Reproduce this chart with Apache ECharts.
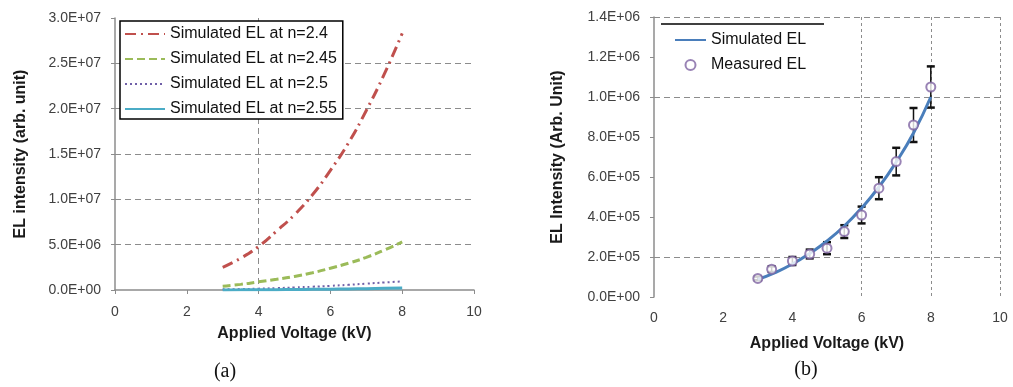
<!DOCTYPE html>
<html style="width: 100%; height: 100%">
<head>
    <meta charset="utf-8">
    <script src="https://cdn.jsdelivr.net/npm/echarts@6/dist/echarts.min.js"></script>
</head>
<body style="width: 100%; height: 100%; margin: 0; background: #fff">
<div id="container" style="width: 1013px; height: 387px"></div>

<script type="text/javascript">
    // (a) simulated EL vs voltage for several n
    var voltA = [3, 3.5, 4, 4.5, 5, 5.5, 6, 6.5, 7, 7.5, 8];
    var elN240 = [2.5e6, 3.5e6, 4.8e6, 6.5e6, 8.3e6, 1.05e7, 1.32e7, 1.62e7, 1.98e7, 2.38e7, 2.83e7];
    var elN245 = [4.2e5, 6.2e5, 9.0e5, 1.18e6, 1.5e6, 1.9e6, 2.4e6, 2.95e6, 3.6e6, 4.4e6, 5.3e6];
    var elN250 = [7e4, 1.0e5, 1.5e5, 2.1e5, 2.8e5, 3.6e5, 4.6e5, 5.7e5, 7.0e5, 8.3e5, 9.5e5];
    var elN255 = [1.2e4, 1.8e4, 2.7e4, 3.8e4, 5.2e4, 7e4, 9.2e4, 1.2e5, 1.5e5, 1.9e5, 2.3e5];
    var namesA = ['Simulated EL at n=2.4', 'Simulated EL at n=2.45', 'Simulated EL at n=2.5', 'Simulated EL at n=2.55'];

    // (b) simulated vs measured
    var simVolt = [3, 3.5, 4, 4.5, 5, 5.5, 6, 6.5, 7, 7.5, 8];
    var simEL = [8.8e4, 1.22e5, 1.65e5, 2.18e5, 2.8e5, 3.55e5, 4.45e5, 5.5e5, 6.75e5, 8.2e5, 1.0e6];
    var measVolt = [3, 3.4, 4, 4.5, 5, 5.5, 6, 6.5, 7, 7.5, 8];
    var measEL = [9.3e4, 1.39e5, 1.8e5, 2.15e5, 2.44e5, 3.27e5, 4.1e5, 5.44e5, 6.77e5, 8.6e5, 1.05e6];
    var measErr = [9e3, 1.4e4, 2.0e4, 2.2e4, 3.0e4, 3.2e4, 4.2e4, 5.5e4, 6.9e4, 8.5e4, 1.03e5];

    var font = 'Liberation Sans, Arial, sans-serif';
    var gridGray = '#8c8c8c';
    var NONE = 'rgba(0,0,0,0)';

    function sci(v) {
        if (v === 0) return '0.0E+00';
        var e = Math.floor(Math.log10(Math.abs(v)) + 1e-9);
        var s = (v / Math.pow(10, e)).toFixed(1);
        if (s === '10.0') { s = '1.0'; e++; }
        return s + 'E' + (e < 0 ? '-' : '+') + (Math.abs(e) < 10 ? '0' : '') + Math.abs(e);
    }
    function pairs(xs, ys) {
        return xs.map(function (x, i) { return [x, ys[i]]; });
    }

    var dom = document.getElementById("container");
    var myChart = echarts.init(dom, null, {renderer: 'canvas'});

    var axisLbl = {color: '#404040', fontFamily: font, fontSize: 14};
    var axisNameStyle = {color: '#1a1a1a', fontFamily: font, fontSize: 16, fontWeight: 'bold'};
    var legendText = {fontFamily: font, fontSize: 16, color: '#111'};
    var hidden = {opacity: 0};

    option = {
        animation: false,
        backgroundColor: '#fff',
        grid: [
            {left: 115, right: 539, top: 18, bottom: 97},
            {left: 654, right: 13, top: 17, bottom: 90}
        ],
        legend: [
            {
                data: namesA,
                orient: 'vertical',
                left: 120, top: 21,
                itemWidth: 40, itemHeight: 14, itemGap: 9,
                padding: [5, 6, 2, 4],
                itemStyle: hidden,
                borderColor: '#000', borderWidth: 1.5,
                backgroundColor: '#fff',
                textStyle: legendText
            },
            {
                data: [{name: 'Simulated EL', itemStyle: hidden}, 'Measured EL'],
                orient: 'vertical',
                left: 669, top: 27,
                itemWidth: 31, itemHeight: 10, itemGap: 9,
                padding: [5, 5, 5, 5],
                textStyle: legendText
            }
        ],
        xAxis: [
            {
                gridIndex: 0, type: 'value', min: 0, max: 10, interval: 2,
                name: 'Applied Voltage (kV)', nameLocation: 'middle', nameGap: 36,
                nameTextStyle: axisNameStyle,
                axisLine: {lineStyle: {color: gridGray, width: 1.5}},
                axisTick: {show: true, length: 4, lineStyle: {color: gridGray}},
                axisLabel: Object.assign({margin: 15}, axisLbl),
                splitLine: {show: true, lineStyle: {color: [NONE, NONE, gridGray, NONE, NONE, NONE], type: [6, 4], width: 1}}
            },
            {
                gridIndex: 1, type: 'value', min: 0, max: 10, interval: 2,
                name: 'Applied Voltage (kV)', nameLocation: 'middle', nameGap: 39,
                nameTextStyle: axisNameStyle,
                axisLine: {show: false},
                axisTick: {show: false},
                axisLabel: Object.assign({margin: 14}, axisLbl),
                splitLine: {show: true, lineStyle: {color: [NONE, NONE, NONE, gridGray, gridGray, gridGray], type: [3, 3], width: 1}}
            }
        ],
        yAxis: [
            {
                gridIndex: 0, type: 'value', min: 0, max: 3e7, interval: 5e6,
                name: 'EL intensity (arb. unit)', nameLocation: 'middle', nameGap: 86,
                nameTextStyle: axisNameStyle,
                axisLine: {show: true, lineStyle: {color: gridGray, width: 1.5}},
                axisTick: {show: true, length: 4, lineStyle: {color: gridGray}},
                axisLabel: Object.assign({margin: 14, formatter: sci}, axisLbl),
                splitLine: {show: true, lineStyle: {color: [NONE, gridGray, gridGray, gridGray, gridGray, gridGray, NONE], type: [6, 4], width: 1}}
            },
            {
                gridIndex: 1, type: 'value', min: 0, max: 1.4e6, interval: 2e5,
                name: 'EL Intensity (Arb. Unit)', nameLocation: 'middle', nameGap: 88,
                nameTextStyle: axisNameStyle,
                axisLine: {show: true, lineStyle: {color: gridGray, width: 1.5}},
                axisTick: {show: true, length: 4, lineStyle: {color: gridGray}},
                axisLabel: Object.assign({margin: 14, formatter: sci}, axisLbl),
                splitLine: {show: true, lineStyle: {color: [NONE, gridGray, NONE, NONE, NONE, gridGray, NONE, gridGray], type: [6, 4], width: 1}}
            }
        ],
        graphic: [
            {type: 'line', shape: {x1: 661, y1: 24, x2: 824, y2: 24}, style: {stroke: '#000', lineWidth: 1.5}},
            {type: 'text', x: 225, y: 372, style: {text: '(a)', font: '20px "Liberation Serif", "Times New Roman", serif', fill: '#111', textAlign: 'center', textVerticalAlign: 'middle'}},
            {type: 'text', x: 806, y: 370, style: {text: '(b)', font: '20px "Liberation Serif", "Times New Roman", serif', fill: '#111', textAlign: 'center', textVerticalAlign: 'middle'}}
        ],
        series: [
            {
                name: namesA[0], type: 'line', xAxisIndex: 0, yAxisIndex: 0, smooth: true,
                symbol: 'none', data: pairs(voltA, elN240),
                itemStyle: {color: '#C0504D'},
                lineStyle: {color: '#C0504D', width: 3, type: [11, 5, 2, 5]}
            },
            {
                name: namesA[1], type: 'line', xAxisIndex: 0, yAxisIndex: 0, smooth: true,
                symbol: 'none', data: pairs(voltA, elN245),
                itemStyle: {color: '#9BBB59'},
                lineStyle: {color: '#9BBB59', width: 3, type: [8, 4]}
            },
            {
                name: namesA[2], type: 'line', xAxisIndex: 0, yAxisIndex: 0, smooth: true,
                symbol: 'none', data: pairs(voltA, elN250),
                itemStyle: {color: '#7060A8'},
                lineStyle: {color: '#7060A8', width: 2, type: [2, 3]}
            },
            {
                name: namesA[3], type: 'line', xAxisIndex: 0, yAxisIndex: 0, smooth: true,
                symbol: 'none', data: pairs(voltA, elN255),
                itemStyle: {color: '#4BACC6'},
                lineStyle: {color: '#4BACC6', width: 3}
            },
            {
                name: 'errorbars', type: 'custom', xAxisIndex: 1, yAxisIndex: 1, silent: true,
                data: measVolt.map(function (x, i) { return [x, measEL[i], measErr[i]]; }),
                encode: {x: 0, y: 1},
                renderItem: function (params, api) {
                    var x = api.value(0), y = api.value(1), e = api.value(2);
                    var top = api.coord([x, y + e]);
                    var bot = api.coord([x, y - e]);
                    var w = 4;
                    var st = {stroke: '#111', lineWidth: 1.5};
                    var cap = {stroke: '#111', lineWidth: 2.5};
                    return {
                        type: 'group',
                        children: [
                            {type: 'line', shape: {x1: top[0], y1: top[1], x2: bot[0], y2: bot[1]}, style: st},
                            {type: 'line', shape: {x1: top[0] - w, y1: top[1], x2: top[0] + w, y2: top[1]}, style: cap},
                            {type: 'line', shape: {x1: bot[0] - w, y1: bot[1], x2: bot[0] + w, y2: bot[1]}, style: cap}
                        ]
                    };
                },
                z: 1
            },
            {
                name: 'Simulated EL', type: 'line', xAxisIndex: 1, yAxisIndex: 1, smooth: true,
                symbol: 'none', data: pairs(simVolt, simEL),
                itemStyle: {color: '#4A7EBB'},
                lineStyle: {color: '#4A7EBB', width: 3},
                z: 2
            },
            {
                name: 'Measured EL', type: 'scatter', xAxisIndex: 1, yAxisIndex: 1,
                symbol: 'circle', symbolSize: 9,
                data: pairs(measVolt, measEL),
                itemStyle: {color: '#fff', borderColor: '#8064A2', borderWidth: 2},
                z: 3
            }
        ]
    };
    myChart.setOption(option);
</script>
</body>
</html>
